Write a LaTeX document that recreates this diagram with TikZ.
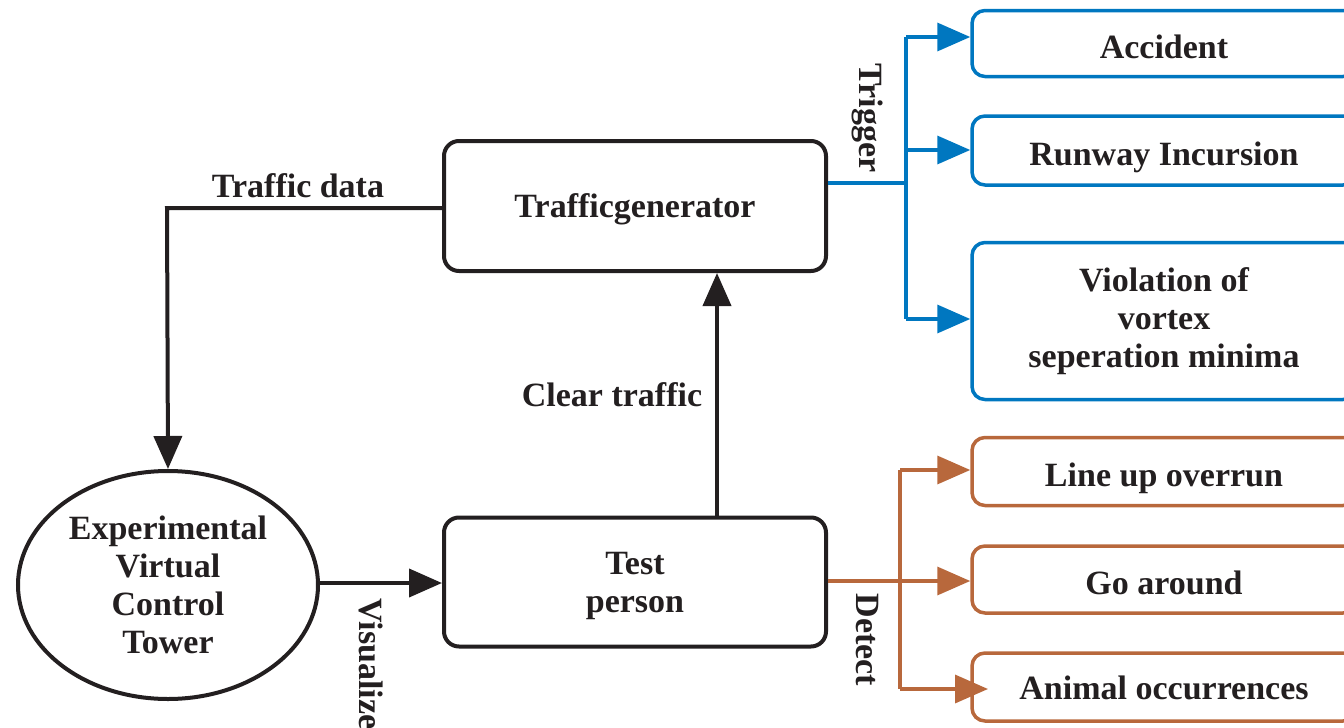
\documentclass[tikz,border=0pt]{standalone}
\usepackage{fontspec}
\setmainfont{Liberation Serif}
\usetikzlibrary{shapes.geometric,arrows.meta,calc}
\definecolor{ink}{RGB}{35,31,32}
\definecolor{blu}{RGB}{0,119,192}
\definecolor{brn}{RGB}{184,104,60}
\begin{document}
\begin{tikzpicture}[x=1pt,y=-1pt,
  every node/.style={font=\fontsize{34}{38}\selectfont\bfseries, text=ink, align=center, inner sep=0pt},
  blk/.style={draw=ink, line width=4pt, rounded corners=15pt, minimum width=382pt},
  rbox/.style={line width=3.5pt, rounded corners=13pt, minimum width=384pt},
  oneline/.style={text height=30pt, text depth=0pt},
  bluebox/.style={rbox, draw=blu},
  brnbox/.style={rbox, draw=brn},
  arr/.style={-{Triangle[length=33pt,width=28pt]}},
  kline/.style={draw=ink, line width=4pt},
  bline/.style={draw=blu, line width=3.5pt},
  rline/.style={draw=brn, line width=3.5pt},
  lbl/.style={}
]
\useasboundingbox (0,0) rectangle (1344,728);

% main nodes
\node[blk, minimum height=130pt, text height=23pt, text depth=0pt] (tg) at (635,206) {Trafficgenerator};
\node[blk, minimum height=129pt] (tp) at (635,582) {\rule{0pt}{30pt}Test\\person};
\node[draw=ink, line width=4pt, ellipse, minimum width=300pt, minimum height=228pt] (evct) at (168,585) {Experimental\\Virtual\\Control\\Tower};

% right boxes
\node[bluebox, oneline, minimum height=66pt] (acc) at (1164,43.5) {Accident};
\node[bluebox, oneline, minimum height=69pt] (rwy) at (1164,150.5) {Runway Incursion};
\node[bluebox, minimum height=157pt] (vio) at (1164,321) {Violation of\\vortex\\seperation minima};
\node[brnbox, oneline, minimum height=68pt] (lup) at (1164,471.5) {Line up overrun};
\node[brnbox, oneline, minimum height=67pt] (goa) at (1164,579.5) {Go around};
\node[brnbox, text height=25pt, text depth=0pt, minimum height=68pt] (ani) at (1164,687) {Animal occurrences};

% black connectors
\coordinate (tdc) at (167,208);
\draw[kline, arr] (tg.west |- tdc) -- (tdc) -- (evct.north);
\node[lbl] (tdl) at (298,186) {Traffic data};

\coordinate (vc) at (320,583);
\draw[kline, arr] (vc) -- (vc -| tp.west);
\node[lbl, rotate=-90] (vis) at (371,664) {Visualize};

\coordinate (ct) at (717,0);
\draw[kline, arr] (ct |- tp.north) -- (ct |- tg.south);
\node[lbl] (ctl) at (612,395) {Clear traffic};

% blue trigger
\coordinate (tr) at (906,183);
\coordinate (bt) at (906,37);
\coordinate (bm) at (906,150);
\coordinate (bb) at (906,319);
\draw[bline] (tg.east |- tr) -- (tr);
\draw[bline] (bt) -- (bb);
\draw[bline, arr] (bt) -- (bt -| acc.west);
\draw[bline, arr] (bm) -- (bm -| rwy.west);
\draw[bline, arr] (bb) -- (bb -| vio.west);
\node[lbl, rotate=-90] (trg) at (868,118) {Trigger};

% brown detect
\coordinate (dm) at (900,581);
\coordinate (dt) at (900,470);
\coordinate (db) at (900,689);
\coordinate (dx) at (988,689);
\draw[rline, arr] (tp.east |- dm) -- (dm -| goa.west);
\draw[rline] (dt) -- (db);
\draw[rline, arr] (dt) -- (dt -| lup.west);
\draw[rline, arr] (db) -- (dx);
\node[lbl, rotate=-90] (det) at (867,640) {Detect};
\end{tikzpicture}
\end{document}
